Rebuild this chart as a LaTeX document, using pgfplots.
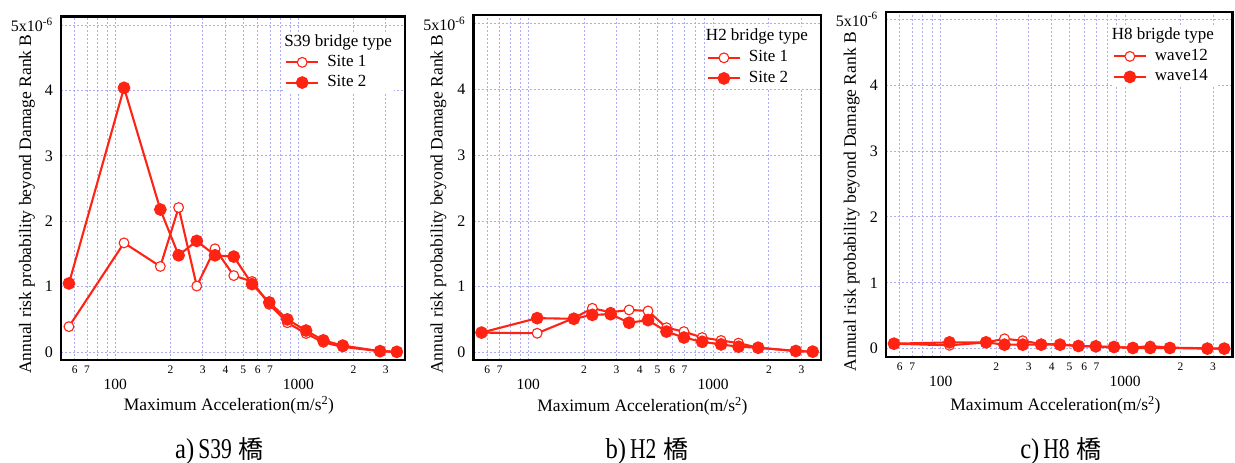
\documentclass[border=0pt]{standalone}
\usepackage{fontspec}
\setmainfont{Liberation Serif}
\newfontfamily\cjk{Noto Sans CJK JP}
\usepackage{graphicx}
\usepackage{pgfplots}
\usepackage{pgfplotstable}
\pgfplotsset{compat=1.18}

\definecolor{curve}{RGB}{255,35,20}
\definecolor{gridblue}{RGB}{172,172,242}

% Maximum acceleration (m/s^2) and annual risk probability (x 1e-6)
\pgfplotstableread{
acc   s1     s2
55.8  0.39   1.05
111.6 1.67   4.04
176.2 1.31   2.18
221.8 2.21   1.48
278.6 1.01   1.70
350.6 1.58   1.48
443.8 1.17   1.46
558.7 1.08   1.04
694   0.73   0.76
871   0.45   0.50
1102  0.285  0.33
1370  0.15   0.18
1750  0.08   0.10
2796  0.015  0.015
3452  0.005  0.005
}\tblS

\pgfplotstableread{
acc   s1     s2
55.8  0.30   0.30
111.6 0.29   0.52
176.2 0.52   0.51
221.8 0.67   0.57
278.6 0.61   0.58
350.6 0.645  0.45
443.8 0.63   0.49
558.7 0.375  0.315
694   0.315  0.225
871   0.225  0.16
1102  0.18   0.12
1370  0.14   0.085
1750  0.07   0.07
2796  0.02   0.02
3452  0.01   0.01
}\tblHtwo

\pgfplotstableread{
acc   w12    w14
55.8  0.075  0.075
111.6 0.05   0.095
176.2 0.095  0.095
221.8 0.15   0.06
278.6 0.12   0.06
350.6 0.07   0.06
443.8 0.065  0.06
558.7 0.04   0.04
694   0.03   0.035
871   0.02   0.025
1102  0.015  0.01
1370  0.04   0.01
1750  0.015  0.01
2796  0.005  0.0
3452  0.0    0.0
}\tblHeight

\tikzset{
  opencurve/.style={draw=curve, line width=2.1pt, mark=*, mark size=4.9pt,
    mark options={solid, fill=white, draw=curve, line width=1.1pt}},
  filledcurve/.style={draw=curve, line width=2.1pt, mark=*, mark size=5.3pt,
    mark options={solid, fill=curve, draw=curve}},
  gridline/.style={gridblue, line width=0.8pt, dash pattern=on 2pt off 2pt},
  caption/.style={anchor=base, inner sep=0pt, font=\fontsize{28.7}{32}\selectfont},
}
\newcommand{\panelcaption}[2]{\scalebox{0.86}[1]{#1)}\hspace{4pt}%
  \scalebox{0.75}[1]{#2}\hspace{7pt}{\cjk\fontsize{25}{28}\selectfont 橋}}

\begin{document}
\begin{tikzpicture}
\useasboundingbox (0pt,0pt) rectangle (1235pt,463pt);

% a) S39
\begin{axis}[
  scale only axis, xmode=log,
  at={(61pt,103pt)}, anchor=south west, width=344pt, height=343.5pt,
  xmin=50.5, xmax=3828, ymin=-0.12, ymax=5.13,
  axis line style={line width=2.2pt, black},
  major tick length=0pt, minor tick length=0pt, tick style={draw=none},
  xtick={100,1000},
  xticklabels={{\fontsize{15.5}{18}\selectfont\raisebox{-15.8pt}{100}},
               {\fontsize{15.5}{18}\selectfont\raisebox{-15.8pt}{1000}}},
  minor xtick={60,70,80,90,200,300,400,500,600,700,800,900,2000,3000},
  extra x ticks={60,70,200,300,400,500,600,700,2000,3000},
  extra x tick labels={6,7,2,3,4,5,6,7,2,3},
  extra x tick style={grid=none},
  xticklabel style={anchor=base, yshift=-13.5pt, font=\fontsize{11.5}{13}\selectfont},
  ytick={0,1,2,3,4,5},
  yticklabels={0,1,2,3,4,{5x10\textsuperscript{-6}}},
  yticklabel style={anchor=east, inner sep=0pt, xshift=-8pt, font=\fontsize{16}{18}\selectfont},
  xmajorgrids=true, xminorgrids=true, ymajorgrids=true,
  major grid style={gridline}, minor grid style={gridline},
  xlabel={Maximum Acceleration(m/s\textsuperscript{2})},
  ylabel={Annual risk probability beyond Damage Rank B},
  label style={font=\fontsize{17.5}{20}\selectfont},
  xlabel style={anchor=base, at={(axis description cs:0.488,-0.1476)}},
  ylabel style={anchor=center, at={(axis description cs:-0.0988,0.454)}},
  legend cell align=left,
  legend style={draw=none, fill=white, anchor=north west,
    at={(axis description cs:0.651,0.9553)},
    inner sep=0pt, column sep=6pt, row sep=0pt,
    nodes={inner sep=2pt, text height=12pt, text depth=4.2pt},
    font=\fontsize{17}{20}\selectfont},
  legend image code/.code={\draw[mark repeat=2,mark phase=2,#1]
    plot coordinates {(0pt,0pt) (16pt,0pt) (32pt,0pt)};},
]
\addlegendimage{empty legend}
\addlegendentry{\hspace{-43pt}S39 bridge type}
\addplot[opencurve] table[x=acc, y=s1] {\tblS};
\addlegendentry{Site 1}
\addplot[filledcurve] table[x=acc, y=s2] {\tblS};
\addlegendentry{Site 2}
\end{axis}

% b) H2
\begin{axis}[
  scale only axis, xmode=log,
  at={(473.5pt,103pt)}, anchor=south west, width=347.5pt, height=345pt,
  xmin=50.5, xmax=3828, ymin=-0.117, ymax=5.134,
  axis line style={line width=2.2pt, black},
  major tick length=0pt, minor tick length=0pt, tick style={draw=none},
  xtick={100,1000},
  xticklabels={{\fontsize{15.5}{18}\selectfont\raisebox{-15.8pt}{100}},
               {\fontsize{15.5}{18}\selectfont\raisebox{-15.8pt}{1000}}},
  minor xtick={60,70,80,90,200,300,400,500,600,700,800,900,2000,3000},
  extra x ticks={60,70,200,300,400,500,600,700,2000,3000},
  extra x tick labels={6,7,2,3,4,5,6,7,2,3},
  extra x tick style={grid=none},
  xticklabel style={anchor=base, yshift=-13.5pt, font=\fontsize{11.5}{13}\selectfont},
  ytick={0,1,2,3,4,5},
  yticklabels={0,1,2,3,4,{5x10\textsuperscript{-6}}},
  yticklabel style={anchor=east, inner sep=0pt, xshift=-8pt, font=\fontsize{16}{18}\selectfont},
  xmajorgrids=true, xminorgrids=true, ymajorgrids=true,
  major grid style={gridline}, minor grid style={gridline},
  xlabel={Maximum Acceleration(m/s\textsuperscript{2})},
  ylabel={Annual risk probability beyond Damage Rank B},
  label style={font=\fontsize{17.5}{20}\selectfont},
  xlabel style={anchor=base, at={(axis description cs:0.486,-0.15)}},
  ylabel style={anchor=center, at={(axis description cs:-0.101,0.452)}},
  legend cell align=left,
  legend style={draw=none, fill=white, anchor=north west,
    at={(axis description cs:0.671,0.966)},
    inner sep=0pt, column sep=6pt, row sep=0pt,
    nodes={inner sep=2pt, text height=12pt, text depth=4.6pt},
    font=\fontsize{17}{20}\selectfont},
  legend image code/.code={\draw[mark repeat=2,mark phase=2,#1]
    plot coordinates {(0pt,0pt) (16pt,0pt) (32pt,0pt)};},
]
\addlegendimage{empty legend}
\addlegendentry{\hspace{-43pt}H2 bridge type}
\addplot[opencurve] table[x=acc, y=s1] {\tblHtwo};
\addlegendentry{Site 1}
\addplot[filledcurve] table[x=acc, y=s2] {\tblHtwo};
\addlegendentry{Site 2}
\end{axis}

% c) H8
\begin{axis}[
  scale only axis, xmode=log,
  at={(886pt,106pt)}, anchor=south west, width=346.5pt, height=345pt,
  xmin=50.5, xmax=3828, ymin=-0.127, ymax=5.11,
  axis line style={line width=2.2pt, black},
  major tick length=0pt, minor tick length=0pt, tick style={draw=none},
  xtick={100,1000},
  xticklabels={{\fontsize{15.5}{18}\selectfont\raisebox{-15.8pt}{100}},
               {\fontsize{15.5}{18}\selectfont\raisebox{-15.8pt}{1000}}},
  minor xtick={60,70,80,90,200,300,400,500,600,700,800,900,2000,3000},
  extra x ticks={60,70,200,300,400,500,600,700,2000,3000},
  extra x tick labels={6,7,2,3,4,5,6,7,2,3},
  extra x tick style={grid=none},
  xticklabel style={anchor=base, yshift=-13.5pt, font=\fontsize{11.5}{13}\selectfont},
  ytick={0,1,2,3,4,5},
  yticklabels={0,1,2,3,4,{5x10\textsuperscript{-6}}},
  yticklabel style={anchor=east, inner sep=0pt, xshift=-8pt, font=\fontsize{16}{18}\selectfont},
  xmajorgrids=true, xminorgrids=true, ymajorgrids=true,
  major grid style={gridline}, minor grid style={gridline},
  xlabel={Maximum Acceleration(m/s\textsuperscript{2})},
  ylabel={Annual risk probability beyond Damage Rank B},
  label style={font=\fontsize{17.5}{20}\selectfont},
  xlabel style={anchor=base, at={(axis description cs:0.489,-0.1545)}},
  ylabel style={anchor=center, at={(axis description cs:-0.099,0.45)}},
  legend cell align=left,
  legend style={draw=none, fill=white, anchor=north west,
    at={(axis description cs:0.654,0.961)},
    inner sep=0pt, column sep=6pt, row sep=0pt,
    nodes={inner sep=2pt, text height=12pt, text depth=4.5pt},
    font=\fontsize{17}{20}\selectfont},
  legend image code/.code={\draw[mark repeat=2,mark phase=2,#1]
    plot coordinates {(0pt,0pt) (16pt,0pt) (32pt,0pt)};},
]
\addlegendimage{empty legend}
\addlegendentry{\hspace{-43pt}H8 brigde type}
\addplot[opencurve] table[x=acc, y=w12] {\tblHeight};
\addlegendentry{wave12}
\addplot[filledcurve] table[x=acc, y=w14] {\tblHeight};
\addlegendentry{wave14}
\end{axis}

% panel captions
\node[caption] at (219.5pt,4pt) {\panelcaption{a}{S39}};
\node[caption] at (647pt,4pt) {\panelcaption{b}{H2}};
\node[caption] at (1061pt,4pt) {\panelcaption{c}{H8}};
\end{tikzpicture}
\end{document}
